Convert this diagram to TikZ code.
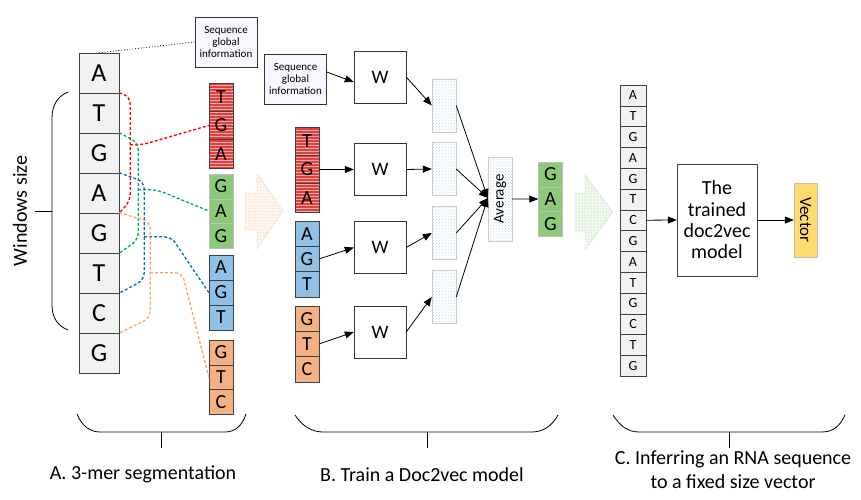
\documentclass[tikz,border=0pt]{standalone}
\usepackage{fontspec}
\setmainfont{Carlito}
\usepackage{xcolor}
\definecolor{cellgray}{HTML}{F2F2F2}
\definecolor{merred}{HTML}{E2403F}
\definecolor{mergreen}{HTML}{8DC97B}
\definecolor{merblue}{HTML}{8FC0E6}
\definecolor{merorange}{HTML}{F4B183}
\definecolor{vecyellow}{HTML}{FFDB6E}
\definecolor{linered}{HTML}{FF0000}
\definecolor{linegreen}{HTML}{00B050}
\definecolor{lineblue}{HTML}{0070C0}
\definecolor{lineorange}{HTML}{F7A46B}
\usepackage{tikz}
\usetikzlibrary{arrows.meta, patterns, calc}

\begin{document}
\begin{tikzpicture}[x=1pt, y=-1pt, font=\fontsize{20}{24}\selectfont,
  bigcell/.style={draw=black!75, fill=cellgray, minimum width=40pt, minimum height=40pt, inner sep=0pt, font=\fontsize{26}{28}\selectfont},
  mer/.style={draw=black!75, minimum width=24pt, minimum height=25pt, inner sep=0pt, font=\fontsize{20}{22}\selectfont},
  redmer/.style={mer, minimum height=28.3pt, preaction={fill=merred}, pattern=horizontal lines, pattern color=white!55!merred},
  greenmer/.style={mer, draw=black!25, fill=mergreen, minimum height=24.7pt},
  bluemer/.style={mer, fill=merblue},
  orangemer/.style={mer, fill=merorange, minimum height=24.7pt},
  rnacell/.style={draw=black!75, fill=cellgray, minimum width=26pt, minimum height=20.8pt, inner sep=0pt, font=\fontsize{14}{16}\selectfont},
  wbox/.style={draw=black!80, fill=white, minimum width=52pt, minimum height=52pt, font=\fontsize{19}{21}\selectfont},
  hidden/.style={draw=black!20, preaction={fill=white}, pattern=crosshatch dots, pattern color=merblue!60, minimum width=24pt, minimum height=53pt, inner sep=0pt},
  infobox/.style={draw=black!80, fill=blue!3, align=center, inner sep=0pt, minimum width=62pt, minimum height=50pt, font=\fontsize{11}{12}\selectfont},
  flow/.style={-{Triangle[length=9pt,width=7pt]}, line width=0.8pt},
  link/.style={densely dashed, line width=1.3pt, rounded corners=7pt},
  brace/.style={line width=0.8pt}]

  \useasboundingbox (0,0) rectangle (861,500);

  % A. 3-mer segmentation
  \node[rotate=90] (win) at (20,211) {Windows size};
  \draw[brace] (68,92) .. controls (58,96) and (52,105) .. (52,118) -- (52,305)
    .. controls (52,318) and (58,326) .. (68,330);
  \draw[brace] (35,211) -- (52,211);

  \node[infobox] (gsi1) at (226,42) {Sequence\\global\\information};

  \foreach \l [count=\i] in {A,T,G,A,G,T,C,G}
    \node[bigcell] (c\i) at ({99},{33+40*\i}) {\l};

  \foreach \l [count=\i] in {T,G,A}
    \node[redmer] (tga\i) at ({221},{83+28.3*(\i-0.5)}) {\l};
  \foreach \l [count=\i] in {G,A,G}
    \node[greenmer] (gag\i) at ({221},{174+24.7*(\i-0.5)}) {\l};
  \foreach \l [count=\i] in {A,G,T}
    \node[bluemer] (agt\i) at ({221},{255+25*(\i-0.5)}) {\l};
  \foreach \l [count=\i] in {G,T,C}
    \node[orangemer] (gtc\i) at ({221},{340+24.7*(\i-0.5)}) {\l};

  \draw[dotted, line width=0.8pt] (c1.north) -- (gsi1.west);

  \draw[link, linered] (c2.north east) -- ++(11,4) coordinate (rr) -- ++(0,104) -- (c4.south east);
  \draw[link, linered] (rr) ++(0,48) -- ++(12,0) -- (tga2.west);
  \draw[link, linegreen] (c3.north east) -- ++(19,10) coordinate (gg) -- ++(0,97) -- (c5.south east);
  \draw[link, linegreen] (gg) ++(0,47) -- ++(19,0) -- (gag2.west);
  \draw[link, lineblue] (c4.north east) -- ++(25,9) coordinate (bb) -- ++(0,98) -- (c6.south east);
  \draw[link, lineblue] (bb) ++(0,55) -- ++(27,0) -- (agt2.west);
  \draw[link, lineorange] (c5.north east) -- ++(31,9) coordinate (oo) -- ++(0,96) -- (c7.south east);
  \draw[link, lineorange] (oo) ++(0,51) -- ++(32,0) -- (gtc2.west);

  \draw[draw=black!15, preaction={fill=merorange!12}, pattern=dots, pattern color=merorange]
    (245,193) -- (257,193) -- (257,173) -- (283,211) -- (257,249) -- (257,230) -- (245,230) -- cycle;

  % B. Train a Doc2vec model
  \node[infobox] (gsi2) at (295.5,79) {Sequence\\global\\information};
  \foreach \l [count=\i] in {T,G,A}
    \node[redmer] (btga\i) at ({307},{127+28.3*(\i-0.5)}) {\l};
  \foreach \l [count=\i] in {A,G,T}
    \node[bluemer, minimum height=25.3pt] (bagt\i) at ({307},{221+25.3*(\i-0.5)}) {\l};
  \foreach \l [count=\i] in {G,T,C}
    \node[orangemer, minimum height=25.3pt] (bgtc\i) at ({307},{306+25.3*(\i-0.5)}) {\l};

  \node[wbox] (w1) at (380,77) {W};
  \node[wbox] (w2) at (380,169.5) {W};
  \node[wbox] (w3) at (380,247.5) {W};
  \node[wbox] (w4) at (380,332) {W};

  \node[hidden] (h1) at (444,105.5) {};
  \node[hidden] (h2) at (444,169) {};
  \node[hidden] (h3) at (444,233) {};
  \node[hidden] (h4) at (444,297) {};

  \node[hidden, rotate=90, minimum width=84pt, minimum height=24pt, font=\fontsize{15}{17}\selectfont] (avg) at (500,199) {Average};

  \foreach \l [count=\i] in {G,A,G}
    \node[greenmer] (bgag\i) at ({550.5},{162+24.7*(\i-0.5)}) {\l};

  \draw[flow] ([yshift=7pt]gsi2.east) -- ([yshift=-5pt]w1.west);
  \draw[flow] (btga2.east) -- (w2.west);
  \draw[flow] (bagt2.east) -- (w3.west);
  \draw[flow] (bgtc2.east) -- (w4.west);
  \foreach \i in {1,...,4} {
    \draw[flow] (w\i.east) -- (h\i.west);
    \draw[flow] (h\i.east) -- ($(avg.north)+(0,-1)$);
  }
  \draw[flow] (avg.south) -- (bgag2.west);

  % C. Inferring
  \draw[draw=black!15, preaction={fill=mergreen!12}, pattern=dots, pattern color=mergreen]
    (575,193) -- (585,193) -- (585,175) -- (613,212) -- (585,250) -- (585,232) -- (575,232) -- cycle;

  \foreach \l [count=\i] in {A,T,G,A,G,T,C,G,A,T,G,C,T,G}
    \node[rnacell] (rna\i) at ({633},{85+20.8*(\i-0.5)}) {\l};

  \node[draw=black!75, fill=white, align=center, minimum width=80pt, minimum height=112pt,
    font=\fontsize{20}{21.3}\selectfont] (model) at (717,220) {The\\trained\\doc2vec\\model};
  \node[draw=black!25, fill=vecyellow, rotate=-90, minimum width=74pt, minimum height=23pt,
    inner sep=0pt, font=\fontsize{17}{19}\selectfont] (vec) at (805.5,220) {Vector};

  \draw[flow] (rna7.east) -- (model.west);
  \draw[flow] (model.east) -- (vec.south);

  % braces and captions
  \draw[brace] (77,414) .. controls (82,426) and (90,432) .. (100,432) -- (225,432)
    .. controls (235,432) and (242,426) .. (246,414);
  \draw[brace] (161,432) -- (161,448);
  \draw[brace] (295,415) .. controls (302,426) and (312,432) .. (323,432) -- (532,432)
    .. controls (543,432) and (552,426) .. (558,415);
  \draw[brace] (427,432) -- (427,448);
  \draw[brace] (613,415) .. controls (620,426) and (628,432) .. (639,432) -- (822,432)
    .. controls (833,432) and (840,426) .. (845,415);
  \draw[brace] (729,432) -- (729,448);

  \node (labA) at (143,474) {A. 3-mer segmentation};
  \node (labB) at (422,475) {B. Train a Doc2vec model};
  \node[align=center] (labC) at (733,470) {C. Inferring an RNA sequence\\to a fixed size vector};
\end{tikzpicture}
\end{document}
